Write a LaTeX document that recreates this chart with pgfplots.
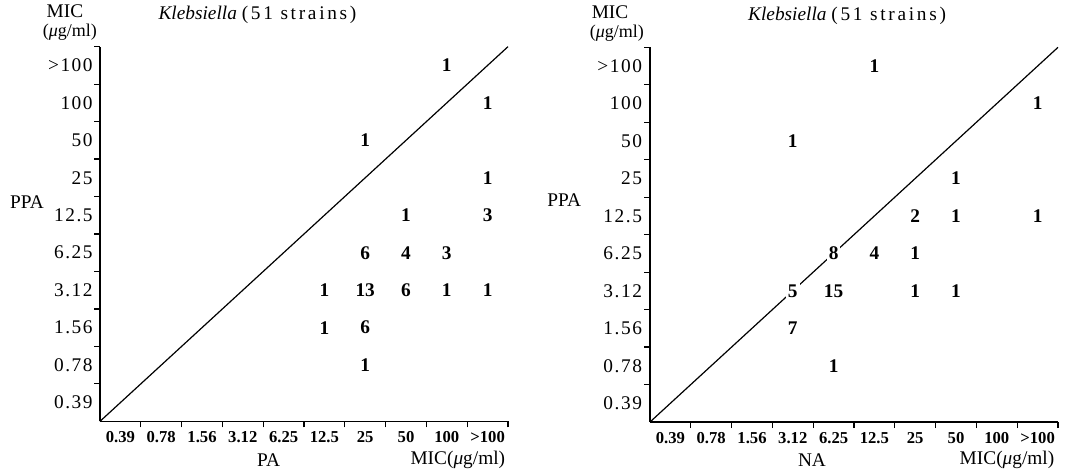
\documentclass[border=0pt]{standalone}
\usepackage{fontspec}
\setmainfont{Liberation Serif}
\newfontfamily\spaced[LetterSpace=14]{Liberation Serif}
\usepackage{pgfplots}
\usepackage{pgfplotstable}
\pgfplotsset{compat=1.18}

\pgfplotstableread{
x y n
8.5 9.5 1
9.5 8.5 1
6.5 7.5 1
9.5 6.5 1
7.5 5.5 1
9.5 5.5 3
6.5 4.5 6
7.5 4.5 4
8.5 4.5 3
5.5 3.5 1
6.5 3.5 13
7.5 3.5 6
8.5 3.5 1
9.5 3.5 1
5.5 2.5 1
6.5 2.5 6
6.5 1.5 1
}\leftdata

\pgfplotstableread{
x y n
5.5 9.5 1
9.5 8.5 1
3.5 7.5 1
7.5 6.5 1
6.5 5.5 2
7.5 5.5 1
9.5 5.5 1
4.5 4.5 8
5.5 4.5 4
6.5 4.5 1
3.5 3.5 5
4.5 3.5 15
6.5 3.5 1
7.5 3.5 1
3.5 2.5 7
4.5 1.5 1
}\rightdata

\newcommand{\bigf}{\fontsize{14.5}{16}\selectfont}
\newcommand{\unitf}{\fontsize{13.5}{15}\selectfont}
\newcommand{\ylab}{\fontsize{14.5}{16}\selectfont\addfontfeature{LetterSpace=8}}
\pgfplotsset{mic/.style={
  width=306pt, height=281pt, scale only axis,
  xmin=0, xmax=10, ymin=0, ymax=10,
  axis lines=left, axis line style={-, line width=1.1pt},
  xtick={0.5,1.5,2.5,3.5,4.5,5.5,6.5,7.5,8.5,9.5},
  ytick={0.5,1.5,2.5,3.5,4.5,5.5,6.5,7.5,8.5,9.5},
  xticklabels={0.39,0.78,1.56,3.12,6.25,12.5,25,50,100,{>100}},
  yticklabels={0.39,0.78,1.56,3.12,6.25,12.5,25,50,100,{>100}},
  minor xtick={1,2,3,4,5,6,7,8,9,10},
  minor ytick={1,2,3,4,5,6,7,8,9,10},
  major tick length=0pt, minor tick length=4.5pt, tick align=outside,
  minor tick style={line width=0.9pt, black},
  clip=false,
  xticklabel style={font=\fontsize{12.5}{14}\selectfont\bfseries, yshift=-4pt},
  yticklabel style={font=\ylab, xshift=-2pt},
  every node near coord/.append style={anchor=center, fill=white, inner sep=1.5pt, font=\bigf\bfseries},
}}

\begin{document}
\begin{tikzpicture}
\useasboundingbox (0,0) rectangle (808.5pt,354pt);
% left panel
\begin{axis}[mic, at={(75pt,38pt)}, anchor=south west]
\addplot[line width=0.9pt, mark=none] coordinates {(0,0) (10,10)};
\addplot[draw=none, mark=none, nodes near coords, point meta=explicit symbolic]
  table[meta=n] {\leftdata};
\node[font=\bigf, inner sep=0pt] at (axis cs:-0.86,10.94) {MIC};
\node[font=\unitf, inner sep=0pt] at (axis cs:-0.74,10.38) {(\textit{μ}g/ml)};
\node[font=\bigf] at (axis cs:3.86,10.86) {\textit{Klebsiella} {\spaced (51 strains)}};
\node[font=\bigf] at (axis cs:-1.79,5.86) {PPA};
\node[font=\bigf] at (axis cs:4.13,-1.04) {PA};
\node[font=\bigf] at (axis cs:8.77,-1.04) {MIC(\textit{μ}g/ml)};
\end{axis}
% right panel
\begin{axis}[mic, at={(487.5pt,37.5pt)}, anchor=south west, yticklabel style={xshift=-0.5pt}]
\addplot[line width=0.9pt, mark=none] coordinates {(0,0) (10,10)};
\addplot[draw=none, mark=none, nodes near coords, point meta=explicit symbolic]
  table[meta=n] {\rightdata};
\node[font=\bigf, inner sep=0pt] at (axis cs:-0.98,10.94) {MIC};
\node[font=\unitf, inner sep=0pt] at (axis cs:-0.81,10.39) {(\textit{μ}g/ml)};
\node[font=\bigf] at (axis cs:4.83,10.83) {\textit{Klebsiella} {\spaced (51 strains)}};
\node[font=\bigf] at (axis cs:-2.1,5.92) {PPA};
\node[font=\bigf] at (axis cs:3.97,-1.01) {NA};
\node[font=\bigf] at (axis cs:8.75,-1.01) {MIC(\textit{μ}g/ml)};
\end{axis}
\end{tikzpicture}
\end{document}
